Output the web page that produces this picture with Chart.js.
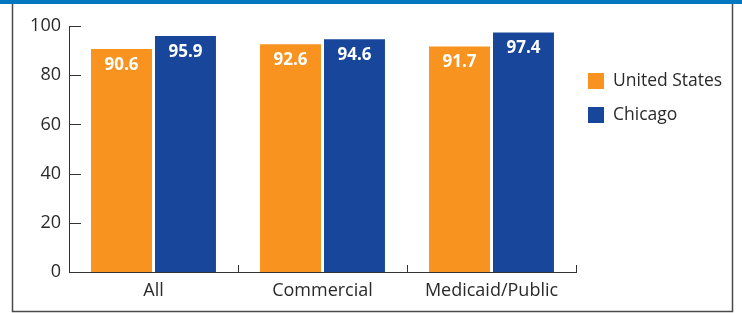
<!DOCTYPE html>
<html>
<head>
<meta charset="utf-8">
<script src="https://cdn.jsdelivr.net/npm/chart.js@4.4.1/dist/chart.umd.min.js"></script>
<style>
  html, body { margin: 0; padding: 0; background: #fff; }
  #wrap { width: 742px; height: 313px; position: relative; }
</style>
</head>
<body>
<div id="wrap"><canvas id="chart" width="742" height="313"></canvas></div>
<script>
// data
const categories = ['All', 'Commercial', 'Medicaid/Public'];
const unitedStates = [90.6, 92.6, 91.7];
const chicago = [95.9, 94.6, 97.4];
const seriesNames = ['United States', 'Chicago'];
const yTicks = [0, 20, 40, 60, 80, 100];

const ORANGE = '#F7931E';
const BLUE = '#18469B';
const TEXT = '#2a2a2a';
const FONT = '"Open Sans", "Noto Sans", sans-serif';

// frame, inward ticks, value labels and legend
const decorPlugin = {
  id: 'decor',
  beforeDraw(chart) {
    const ctx = chart.ctx;
    ctx.save();
    ctx.fillStyle = '#fff';
    ctx.fillRect(0, 0, chart.width, chart.height);
    ctx.restore();
  },
  afterDraw(chart) {
    const ctx = chart.ctx;
    const y = chart.scales.y;
    const area = chart.chartArea;
    ctx.save();

    // outer box
    ctx.strokeStyle = '#4a4a4a';
    ctx.lineWidth = 1.5;
    ctx.strokeRect(12.5, 1, 720, 310.5);
    ctx.fillStyle = '#0077C0';
    ctx.fillRect(0, 0, chart.width, 4);

    // y ticks pointing into the plot
    ctx.strokeStyle = '#333';
    ctx.lineWidth = 1;
    yTicks.forEach(v => {
      const py = Math.round(y.getPixelForValue(v)) + 0.5;
      ctx.beginPath();
      ctx.moveTo(area.left, py);
      ctx.lineTo(area.left + 12, py);
      ctx.stroke();
    });
    // x category boundary ticks pointing up
    const step = (area.right - area.left) / categories.length;
    for (let i = 1; i <= categories.length; i++) {
      const px = Math.round(area.left + i * step) + 0.5;
      ctx.beginPath();
      ctx.moveTo(px, area.bottom);
      ctx.lineTo(px, area.bottom - 7);
      ctx.stroke();
    }

    // value labels inside the bars
    ctx.fillStyle = '#fff';
    ctx.font = 'bold 17px ' + FONT;
    ctx.textAlign = 'center';
    ctx.textBaseline = 'middle';
    chart.data.datasets.forEach((ds, di) => {
      chart.getDatasetMeta(di).data.forEach((bar, i) => {
        ctx.fillText(ds.data[i].toFixed(1), bar.x, bar.y + 16);
      });
    });

    // legend
    ctx.font = '17.5px ' + FONT;
    ctx.textAlign = 'left';
    chart.data.datasets.forEach((ds, di) => {
      const top = 73 + di * 34;
      ctx.fillStyle = ds.backgroundColor;
      ctx.fillRect(588, top, 16, 16);
      ctx.fillStyle = TEXT;
      ctx.fillText(ds.label, 613, top + 8);
    });
    ctx.restore();
  }
};

new Chart(document.getElementById('chart'), {
  type: 'bar',
  data: {
    labels: categories,
    datasets: [
      { label: seriesNames[0], data: unitedStates, backgroundColor: ORANGE },
      { label: seriesNames[1], data: chicago, backgroundColor: BLUE }
    ]
  },
  options: {
    responsive: false,
    animation: false,
    devicePixelRatio: 1,
    categoryPercentage: 0.757,
    barPercentage: 0.953,
    layout: { padding: { left: 0, right: 166, top: 26, bottom: 0 } },
    plugins: {
      legend: { display: false },
      tooltip: { enabled: false }
    },
    scales: {
      x: {
        grid: { display: false, drawTicks: false },
        border: { display: true, color: '#333', width: 1 },
        ticks: { color: TEXT, font: { family: FONT, size: 18 }, padding: 8 },
        afterFit(scale) { scale.height = 41; }
      },
      y: {
        min: 0,
        max: 100,
        afterBuildTicks(scale) { scale.ticks = yTicks.map(v => ({ value: v })); },
        grid: { display: false, drawTicks: false },
        border: { display: true, color: '#333', width: 1 },
        ticks: { color: TEXT, font: { family: FONT, size: 18 }, padding: 8 },
        afterFit(scale) { scale.width = 69; }
      }
    }
  },
  plugins: [decorPlugin]
});
</script>
</body>
</html>
